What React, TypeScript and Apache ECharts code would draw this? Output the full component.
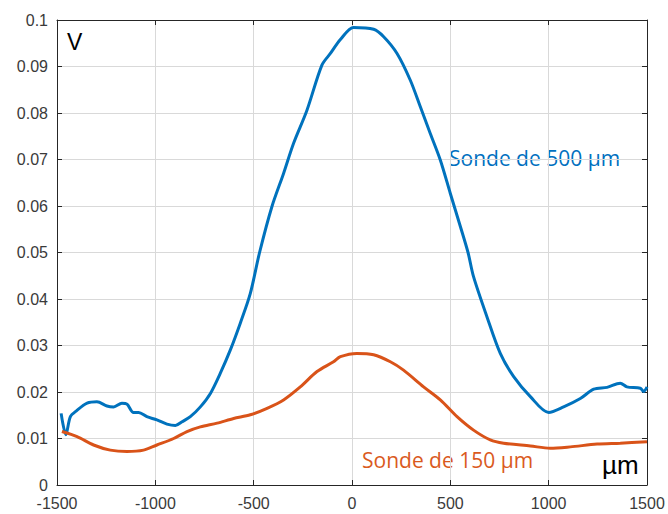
import React, { useEffect, useRef } from "react";
import * as echarts from "echarts";

const blueX = [-1479, -1455, -1432, -1400, -1347, -1297, -1246, -1212, -1170, -1144, -1111, -1085, -1043, -992, -941, -898, -864, -822, -771, -720, -670, -619, -568, -517, -470, -407, -348, -297, -229, -153, -110, -59, 8, 110, 161, 229, 296, 347, 398, 449, 500, 551, 590, 618, 686, 754, 822, 907, 1000, 1076, 1161, 1229, 1297, 1364, 1398, 1466, 1483, 1500];
const blueY = [0.0154, 0.0108, 0.0147, 0.016, 0.0176, 0.0179, 0.017, 0.0168, 0.0176, 0.0174, 0.0156, 0.0156, 0.0147, 0.014, 0.0131, 0.0128, 0.0136, 0.0147, 0.0168, 0.0197, 0.024, 0.029, 0.0348, 0.0412, 0.05, 0.0599, 0.067, 0.0735, 0.0806, 0.0903, 0.0928, 0.0958, 0.0984, 0.098, 0.0964, 0.0928, 0.0871, 0.0814, 0.0756, 0.0699, 0.0627, 0.0556, 0.05, 0.0448, 0.0362, 0.0283, 0.0233, 0.019, 0.0156, 0.0168, 0.0186, 0.0206, 0.021, 0.0219, 0.0211, 0.0208, 0.0201, 0.0211];

const orangeX = [-1475, -1398, -1314, -1229, -1144, -1060, -992, -907, -839, -771, -686, -602, -517, -432, -348, -263, -178, -94, -59, 25, 110, 195, 262, 364, 449, 534, 618, 703, 771, 907, 1008, 1110, 1246, 1364, 1500];
const orangeY = [0.0115, 0.0104, 0.0086, 0.0075, 0.0072, 0.0075, 0.0086, 0.01, 0.0115, 0.0125, 0.0133, 0.0143, 0.0151, 0.0165, 0.0183, 0.0211, 0.0244, 0.0265, 0.0276, 0.0283, 0.028, 0.0265, 0.0247, 0.0211, 0.0183, 0.0147, 0.0118, 0.0097, 0.009, 0.0084, 0.0079, 0.0082, 0.0088, 0.009, 0.0093];

const seriesNames = ["Sonde de 500 µm", "Sonde de 150 µm"];
const yUnit = "V";
const xUnit = "µm";

export default function App() {
  const ref = useRef<HTMLDivElement>(null);
  useEffect(() => {
    if (!ref.current) return;
    const chart = echarts.init(ref.current, undefined, { renderer: "svg" });
    const axisColor = "#262626";
    const labelColor = "#3a3a3a";
    const gridColor = "#d9d9d9";
    const font = "'Liberation Sans', Arial, sans-serif";
    const mkTick = () => ({ show: true, inside: true, length: 5, lineStyle: { color: axisColor, width: 1 } });
    const mkLine = () => ({ show: true, onZero: false, lineStyle: { color: axisColor, width: 1 } });
    chart.setOption({
      animation: false,
      backgroundColor: "#ffffff",
      grid: { left: 57, top: 20, right: 21, bottom: 29, containLabel: false },
      xAxis: [
        {
          type: "value",
          position: "bottom",
          min: -1500,
          max: 1500,
          interval: 500,
          axisLine: mkLine(),
          axisTick: mkTick(),
          axisLabel: { color: labelColor, fontSize: 16, fontFamily: font, margin: 10, formatter: (v: number) => String(v) },
          splitLine: { show: true, lineStyle: { color: gridColor, width: 1 } },
        },
        {
          type: "value",
          position: "top",
          min: -1500,
          max: 1500,
          interval: 500,
          axisLine: mkLine(),
          axisTick: mkTick(),
          axisLabel: { show: false },
          splitLine: { show: false },
        },
      ],
      yAxis: [
        {
          type: "value",
          position: "left",
          min: 0,
          max: 0.1,
          interval: 0.01,
          axisLine: mkLine(),
          axisTick: mkTick(),
          axisLabel: { color: labelColor, fontSize: 16, fontFamily: font, margin: 9, formatter: (v: number) => String(+v.toFixed(2)) },
          splitLine: { show: true, lineStyle: { color: gridColor, width: 1 } },
        },
        {
          type: "value",
          position: "right",
          min: 0,
          max: 0.1,
          interval: 0.01,
          axisLine: mkLine(),
          axisTick: mkTick(),
          axisLabel: { show: false },
          splitLine: { show: false },
        },
      ],
      series: [
        {
          name: seriesNames[0],
          type: "line",
          xAxisIndex: 0,
          yAxisIndex: 0,
          data: blueX.map((x, i) => [x, blueY[i]]),
          showSymbol: false,
          smooth: 0.3,
          lineStyle: { color: "#0072BD", width: 3 },
          itemStyle: { color: "#0072BD" },
        },
        {
          name: seriesNames[1],
          type: "line",
          xAxisIndex: 0,
          yAxisIndex: 0,
          data: orangeX.map((x, i) => [x, orangeY[i]]),
          showSymbol: false,
          smooth: 0.3,
          lineStyle: { color: "#D95319", width: 3 },
          itemStyle: { color: "#D95319" },
        },
      ],
      graphic: [
        {
          type: "text",
          left: 67,
          top: 30,
          style: { text: yUnit, fill: "#000", fontSize: 23, fontFamily: font },
        },
        {
          type: "text",
          left: 602,
          top: 452,
          style: { text: xUnit, fill: "#000", fontSize: 26, fontFamily: font },
        },
        {
          type: "text",
          left: 449,
          top: 147,
          style: { text: seriesNames[0], fill: "#0070C0", fontSize: 21, fontFamily: "'Open Sans', sans-serif" },
        },
        {
          type: "text",
          left: 362,
          top: 449,
          style: { text: seriesNames[1], fill: "#DA5A1E", fontSize: 21, fontFamily: "'Open Sans', sans-serif" },
        },
      ],
    });
    return () => chart.dispose();
  }, []);
  return (
    <div
      ref={ref}
      style={{ position: "fixed", left: 0, top: 0, width: 668, height: 514, background: "#fff" }}
    />
  );
}
